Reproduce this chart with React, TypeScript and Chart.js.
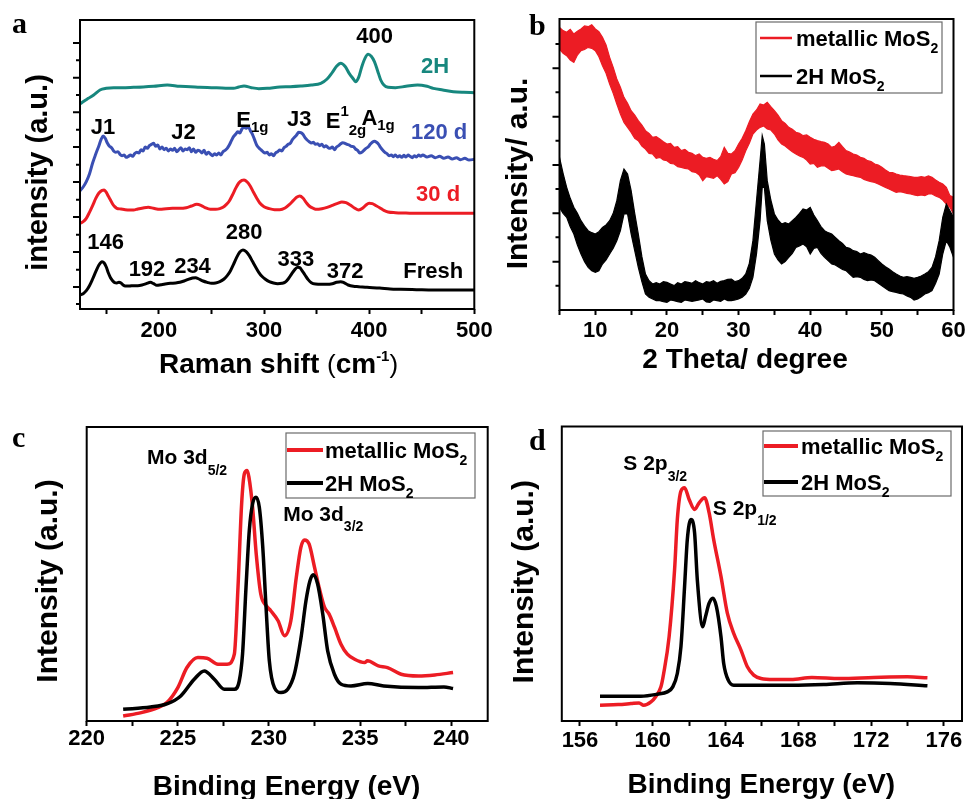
import React, { useEffect, useRef } from "react";
import { Chart, registerables } from "chart.js";

Chart.register(...registerables);

const W = 968;
const H = 799;
const SANS = "'Liberation Sans', Arial, Helvetica, sans-serif";
const SERIF = "'Liberation Serif', 'Times New Roman', Times, serif";

const RED = "#ec1c24";
const BLUE = "#3a4fb3";
const TEAL = "#17877e";
const BLACK = "#000000";

// ===================== (a) Raman spectra =====================
const RAMAN_X_MAJOR = [200, 300, 400, 500];
const RAMAN_X_MINOR = [150, 250, 350, 450];
const RAMAN_Y_MAJOR = [66, 171, 276, 381, 486, 590, 694, 798];
const RAMAN_Y_MINOR = [15, 118, 223, 328, 433, 538, 642, 746];

const RAMAN_FRESH: [number, number][] = [
  [125, 42], [128, 46], [131, 55], [134, 70], [137, 90], [140, 112], [143, 132], [146, 142], [148, 138],
  [150, 126], [152, 108], [154, 94], [156, 85], [158, 79], [160, 78], [162, 80], [164, 78], [166, 72],
  [168, 69], [172, 69], [176, 70], [180, 70], [184, 72], [188, 76], [192, 80], [195, 76], [198, 71],
  [202, 73], [206, 75], [211, 77], [216, 78], [220, 80], [224, 84], [228, 89], [232, 93], [235, 94],
  [238, 90], [242, 84], [246, 80], [250, 77], [254, 78], [258, 82], [262, 90], [265, 100], [268, 114],
  [271, 134], [274, 155], [277, 171], [280, 177], [283, 172], [286, 160], [289, 143], [292, 126],
  [295, 110], [298, 98], [301, 90], [305, 82], [309, 78], [313, 76], [317, 77], [320, 80], [323, 90],
  [326, 104], [329, 117], [332, 125], [334, 124], [336, 116], [339, 102], [342, 88], [345, 79], [349, 75],
  [355, 74], [360, 74], [365, 76], [369, 80], [373, 82], [376, 79], [380, 72], [385, 68], [390, 67],
  [398, 65], [410, 63], [420, 60], [430, 59], [445, 58], [461, 57], [480, 57], [500, 57],
];

const RAMAN_30D: [number, number][] = [
  [125, 257], [128, 262], [131, 272], [134, 290], [137, 310], [140, 332], [143, 348], [146, 356], [148, 357],
  [150, 350], [152, 338], [154, 327], [156, 315], [158, 307], [160, 302], [164, 300], [168, 298], [172, 297],
  [176, 297], [180, 300], [185, 303], [190, 305], [195, 302], [201, 299], [207, 301], [213, 302], [220, 302],
  [226, 304], [231, 309], [236, 314], [240, 311], [244, 304], [249, 299], [254, 299], [258, 301], [261, 305],
  [264, 313], [267, 324], [270, 342], [273, 362], [276, 378], [279, 386], [281, 387], [284, 381], [287, 368],
  [290, 350], [293, 333], [296, 318], [300, 307], [305, 301], [310, 298], [315, 298], [320, 303], [324, 313],
  [328, 326], [331, 335], [334, 339], [337, 333], [340, 320], [343, 309], [347, 302], [350, 299], [355, 301],
  [360, 305], [365, 311], [370, 317], [374, 321], [378, 319], [382, 312], [386, 303], [390, 297], [394, 303],
  [397, 312], [400, 317], [403, 316], [406, 311], [410, 304], [414, 296], [418, 291], [425, 289], [435, 288],
  [446, 287], [460, 287], [480, 287], [500, 287],
];

const RAMAN_120D: [number, number][] = [
  [125, 355], [128, 366], [131, 382], [134, 405], [137, 438], [140, 465], [143, 490], [145, 508], [147, 519],
  [149, 512], [151, 498], [153, 488], [155, 484], [157, 474], [159, 470], [161, 472], [163, 464], [165, 460],
  [167, 462], [169, 455], [171, 458], [173, 462], [175, 458], [177, 466], [179, 470], [181, 468], [183, 478],
  [185, 474], [187, 486], [189, 482], [191, 490], [193, 494], [195, 497], [197, 488], [199, 492], [201, 480],
  [203, 486], [205, 478], [207, 482], [209, 474], [211, 480], [213, 476], [215, 482], [217, 472], [219, 478],
  [221, 484], [223, 474], [225, 480], [227, 478], [229, 484], [231, 472], [233, 480], [235, 470], [237, 476],
  [239, 474], [241, 468], [243, 476], [245, 464], [247, 470], [249, 465], [251, 460], [253, 466], [255, 462],
  [257, 468], [259, 462], [261, 472], [263, 476], [265, 482], [267, 492], [269, 505], [271, 517], [273, 524],
  [275, 532], [277, 528], [279, 540], [281, 545], [283, 542], [285, 547], [287, 535], [289, 524], [291, 508],
  [293, 492], [295, 484], [297, 478], [299, 472], [301, 468], [303, 470], [305, 462], [307, 466], [309, 460],
  [311, 468], [313, 472], [315, 477], [317, 474], [319, 484], [321, 488], [323, 494], [325, 497], [327, 508],
  [329, 515], [331, 522], [333, 530], [335, 529], [337, 524], [339, 514], [341, 507], [343, 502], [345, 498],
  [347, 500], [349, 494], [351, 496], [353, 490], [355, 494], [357, 486], [359, 490], [361, 484], [363, 482],
  [365, 486], [367, 478], [369, 486], [371, 490], [373, 496], [375, 499], [377, 497], [379, 494], [381, 492],
  [383, 488], [385, 487], [387, 480], [389, 476], [391, 468], [393, 470], [395, 476], [397, 482], [399, 486],
  [401, 494], [403, 500], [405, 503], [407, 500], [409, 494], [411, 484], [413, 476], [415, 470], [417, 466],
  [419, 460], [421, 462], [423, 457], [425, 462], [427, 456], [429, 460], [431, 455], [433, 461], [435, 456],
  [437, 462], [439, 458], [441, 454], [443, 460], [445, 456], [447, 462], [449, 458], [451, 462], [455, 456],
  [459, 460], [463, 454], [467, 458], [471, 452], [475, 456], [479, 450], [483, 454], [487, 448], [491, 452],
  [495, 447], [500, 449],
];

const RAMAN_2H: [number, number][] = [
  [125, 615], [129, 624], [133, 632], [138, 642], [144, 657], [150, 662], [157, 664], [165, 664], [176, 665],
  [185, 666], [195, 668], [208, 672], [220, 668], [230, 667], [239, 665], [250, 664], [260, 663], [271, 662],
  [276, 666], [281, 669], [288, 664], [295, 661], [303, 662], [315, 666], [325, 667], [335, 669], [345, 672],
  [354, 677], [360, 690], [365, 710], [369, 728], [373, 737], [377, 728], [381, 707], [385, 690], [387, 682],
  [390, 695], [393, 727], [396, 752], [399, 764], [402, 758], [405, 742], [408, 715], [411, 687], [414, 672],
  [418, 665], [425, 664], [435, 668], [446, 672], [455, 668], [461, 662], [470, 657], [480, 652], [490, 650],
  [500, 649],
];

// ===================== (b) XRD (noise band: [2theta, upper, lower]) =====================
const XRD_X_MAJOR = [10, 20, 30, 40, 50, 60];
const XRD_X_MINOR = [5, 15, 25, 35, 45, 55];
const XRD_Y_MAJOR = [145, 290, 435, 580, 725];
const XRD_Y_MINOR = [73, 218, 363, 508, 653, 798];

const XRD_METALLIC: [number, number, number][] = [
  [5, 848, 783], [5.5, 838, 770], [6, 833, 763], [6.5, 842, 750], [7, 828, 743], [7.5, 836, 765], [8, 843, 778],
  [8.5, 852, 782], [9, 850, 788], [9.5, 856, 785], [10, 843, 778], [10.5, 835, 760], [11, 818, 733],
  [11.5, 795, 710], [12, 758, 678], [12.5, 728, 650], [13, 693, 618], [13.5, 668, 588], [14, 638, 563],
  [14.5, 620, 548], [15, 598, 533], [15.5, 585, 515], [16, 568, 508], [16.5, 555, 492], [17, 538, 483],
  [17.5, 530, 470], [18, 518, 468], [18.5, 520, 455], [19, 513, 458], [19.5, 505, 450], [20, 498, 448],
  [20.5, 500, 440], [21, 488, 438], [21.5, 490, 430], [22, 478, 428], [22.5, 482, 425], [23, 473, 423],
  [23.5, 470, 415], [24, 463, 413], [24.5, 468, 405], [25, 458, 388], [25.5, 455, 400], [26, 458, 398],
  [26.5, 452, 395], [27, 448, 403], [27.5, 460, 392], [28, 488, 378], [28.5, 470, 385], [29, 468, 408],
  [29.5, 478, 412], [30, 498, 428], [30.5, 515, 450], [31, 538, 478], [31.5, 565, 500], [32, 588, 528],
  [32.5, 600, 540], [33, 618, 548], [33.5, 615, 552], [34, 623, 543], [34.5, 610, 540], [35, 598, 528],
  [35.5, 585, 510], [36, 568, 498], [36.5, 560, 492], [37, 548, 483], [37.5, 542, 475], [38, 533, 468],
  [38.5, 530, 462], [39, 523, 458], [39.5, 525, 450], [40, 518, 438], [40.5, 512, 440], [41, 508, 428],
  [41.5, 505, 432], [42, 503, 433], [42.5, 498, 425], [43, 488, 418], [43.5, 492, 420], [44, 503, 423],
  [44.5, 490, 415], [45, 478, 408], [45.5, 474, 405], [46, 468, 403], [46.5, 465, 400], [47, 458, 398],
  [47.5, 455, 392], [48, 448, 388], [48.5, 445, 385], [49, 438, 383], [49.5, 435, 378], [50, 428, 373],
  [50.5, 420, 368], [51, 413, 363], [51.5, 412, 358], [52, 408, 353], [52.5, 405, 355], [53, 403, 353],
  [53.5, 402, 350], [54, 400, 348], [54.5, 398, 345], [55, 398, 343], [55.5, 400, 345], [56, 398, 343],
  [56.5, 402, 348], [57, 398, 348], [57.5, 390, 342], [58, 383, 338], [58.5, 378, 330], [59, 368, 318],
  [59.5, 343, 308], [60, 338, 288],
];

const XRD_2H: [number, number, number][] = [
  [5, 458, 308], [5.5, 410, 290], [6, 368, 278], [6.5, 335, 250], [7, 308, 228], [7.5, 290, 195], [8, 268, 168],
  [8.5, 252, 145], [9, 238, 128], [9.5, 232, 118], [10, 228, 113], [10.5, 235, 118], [11, 248, 138],
  [11.5, 255, 150], [12, 268, 168], [12.5, 290, 185], [13, 328, 208], [13.5, 388, 238], [14, 423, 288],
  [14.5, 408, 288], [15, 358, 228], [15.5, 290, 178], [16, 228, 128], [16.5, 160, 85], [17, 108, 48],
  [17.5, 88, 38], [18, 78, 33], [18.5, 82, 28], [19, 78, 28], [19.5, 85, 25], [20, 83, 23], [20.5, 78, 30],
  [21, 73, 28], [21.5, 82, 25], [22, 78, 23], [22.5, 85, 30], [23, 83, 28], [23.5, 80, 26], [24, 88, 28],
  [24.5, 82, 30], [25, 78, 33], [25.5, 85, 24], [26, 83, 23], [26.5, 88, 30], [27, 80, 28], [27.5, 86, 26],
  [28, 88, 33], [28.5, 92, 28], [29, 93, 28], [29.5, 85, 30], [30, 88, 33], [30.5, 95, 38], [31, 108, 48],
  [31.5, 140, 65], [32, 208, 98], [32.5, 328, 168], [33, 448, 268], [33.3, 523, 368], [33.6, 498, 368],
  [34, 388, 268], [34.5, 330, 210], [35, 288, 168], [35.5, 270, 150], [36, 258, 138], [36.5, 262, 145],
  [37, 258, 158], [37.5, 268, 170], [38, 278, 188], [38.5, 290, 192], [39, 303, 198], [39.5, 300, 190],
  [40, 308, 168], [40.5, 285, 185], [41, 268, 188], [41.5, 250, 170], [42, 238, 158], [42.5, 232, 148],
  [43, 228, 138], [43.5, 218, 135], [44, 208, 128], [44.5, 200, 122], [45, 188, 118], [45.5, 185, 108],
  [46, 178, 98], [46.5, 175, 100], [47, 168, 98], [47.5, 172, 92], [48, 168, 88], [48.5, 165, 90],
  [49, 158, 88], [49.5, 148, 80], [50, 138, 73], [50.5, 130, 65], [51, 123, 58], [51.5, 115, 55],
  [52, 108, 53], [52.5, 102, 50], [53, 98, 48], [53.5, 100, 42], [54, 98, 38], [54.5, 95, 30], [55, 98, 33],
  [55.5, 102, 40], [56, 108, 48], [56.5, 115, 52], [57, 128, 58], [57.5, 160, 80], [58, 208, 108],
  [58.5, 278, 168], [59, 318, 208], [59.5, 298, 188], [60, 278, 158],
];

// ===================== (c) XPS Mo 3d =====================
const MO_X_MAJOR = [220, 225, 230, 235, 240];
const MO_X_MINOR = [222.5, 227.5, 232.5, 237.5];

const MO_METALLIC: [number, number][] = [
  [222.0, 15], [223.0, 25], [223.9, 40], [224.4, 55], [225.0, 100], [225.5, 160], [226.1, 190], [226.6, 188],
  [227.2, 170], [227.7, 170], [228.1, 200], [228.3, 400], [228.5, 650], [228.65, 740], [228.8, 750],
  [228.9, 730], [229.1, 640], [229.3, 500], [229.55, 380], [229.85, 345], [230.1, 330], [230.5, 300],
  [230.85, 255], [231.2, 300], [231.5, 430], [231.75, 520], [231.95, 542], [232.2, 530], [232.5, 460],
  [232.75, 400], [233.05, 340], [233.3, 320], [233.6, 280], [233.95, 230], [234.3, 200], [234.7, 185],
  [235.25, 175], [235.4, 180], [236.0, 165], [236.5, 160], [237.25, 140], [238.2, 135], [239.1, 138],
  [240.1, 145],
];

const MO_2H: [number, number][] = [
  [222.0, 35], [223.5, 42], [224.43, 52], [225.16, 75], [225.9, 125], [226.45, 150], [227.0, 125],
  [227.55, 95], [228.1, 95], [228.37, 120], [228.55, 200], [228.74, 400], [228.92, 570], [229.1, 650],
  [229.29, 670], [229.47, 640], [229.66, 520], [229.84, 340], [230.02, 180], [230.3, 100], [230.66, 85],
  [231.03, 95], [231.39, 140], [231.76, 250], [232.03, 360], [232.25, 420], [232.43, 438], [232.67, 410],
  [232.95, 320], [233.22, 210], [233.59, 140], [233.96, 110], [234.5, 105], [235.42, 112], [236.3, 105],
  [238.2, 100], [239.6, 102], [240.1, 97],
];

// ===================== (d) XPS S 2p =====================
const S_X_MAJOR = [156, 160, 164, 168, 172, 176];
const S_X_MINOR = [158, 162, 166, 170, 174];

const S_METALLIC: [number, number][] = [
  [157.1, 47], [158.1, 49], [158.8, 52], [159.25, 54], [159.5, 47], [159.9, 57], [160.15, 72], [160.45, 102],
  [160.6, 142], [160.9, 252], [161.2, 452], [161.35, 602], [161.55, 687], [161.75, 697], [162.0, 662],
  [162.3, 632], [162.55, 652], [162.85, 667], [163.1, 622], [163.35, 542], [163.75, 432], [164.1, 322],
  [164.45, 262], [164.85, 212], [165.2, 162], [165.55, 137], [165.95, 127], [166.65, 124], [167.6, 124],
  [168.75, 130], [170.3, 127], [172.15, 130], [174.0, 132], [175.1, 129],
];

const S_2H: [number, number][] = [
  [157.1, 74], [159.35, 74], [160.25, 80], [160.8, 87], [161.1, 102], [161.35, 142], [161.55, 222],
  [161.75, 402], [161.9, 542], [162.1, 602], [162.3, 562], [162.45, 422], [162.75, 282], [162.9, 312],
  [163.1, 352], [163.3, 367], [163.5, 342], [163.75, 252], [163.9, 172], [164.15, 122], [164.45, 107],
  [165.75, 107], [167.6, 107], [169.4, 109], [171.25, 114], [173.05, 112], [175.1, 105],
];

// ===================== helpers =====================
type Part = { t: string; size?: number; dy?: number; weight?: string };
type Label = { parts: Part[]; x: number; y: number; color?: string; align?: "left" | "center" };

function fontOf(p: Part, base: number) {
  return `${p.weight || "bold"} ${p.size || base}px ${SANS}`;
}
function partsWidth(ctx: CanvasRenderingContext2D, parts: Part[], base: number) {
  let w = 0;
  for (const p of parts) {
    ctx.font = fontOf(p, base);
    w += ctx.measureText(p.t).width;
  }
  return w;
}
function drawParts(
  ctx: CanvasRenderingContext2D, parts: Part[], x: number, baseline: number, base: number,
  align: "left" | "center", color: string,
) {
  const w = partsWidth(ctx, parts, base);
  let cx = align === "center" ? x - w / 2 : x;
  ctx.fillStyle = color;
  ctx.textAlign = "left";
  ctx.textBaseline = "alphabetic";
  for (const p of parts) {
    ctx.font = fontOf(p, base);
    ctx.fillText(p.t, cx, baseline + (p.dy || 0));
    cx += ctx.measureText(p.t).width;
  }
}

const MOS2_METALLIC: Part[] = [{ t: "metallic MoS" }, { t: "2", size: 14, dy: 7 }];
const MOS2_2H: Part[] = [{ t: "2H MoS" }, { t: "2", size: 14, dy: 7 }];

type LegendCfg = {
  left: number; right: number; top: number; bottom: number;
  line0: number; line1: number; text: number; rows: number[]; lw: number;
};

type Panel = {
  key: string;
  area: { l: number; r: number; t: number; b: number };
  xMin: number; xMax: number; yMax: number;
  xMajor: number[]; xMinor: number[]; tickPad: number;
  yMajor: number[]; yMinor: number[];
  datasets: any[];
  labels: Label[]; labelSize: number;
  yTitle: { text: string; dx: number; dy: number; size: number };
  xTitle: { parts: Part[]; dx: number; dy: number; size: number };
  letter: { t: string; x: number; y: number };
  legend: LegendCfg | null;
};

const line = (label: string, pts: [number, number][], color: string, width = 3) => ({
  label,
  data: pts.map(([x, y]) => ({ x, y })),
  borderColor: color,
  borderWidth: width,
  pointRadius: 0,
  fill: false,
  cubicInterpolationMode: "monotone",
});

const band = (label: string, pts: [number, number, number][], color: string) => [
  {
    label,
    data: pts.map(([x, u]) => ({ x, y: u })),
    borderColor: color, borderWidth: 1.2, pointRadius: 0, fill: false, tension: 0,
  },
  {
    label: label + " (lower)",
    data: pts.map(([x, , l]) => ({ x, y: l })),
    borderColor: color, borderWidth: 1.2, pointRadius: 0, fill: "-1", backgroundColor: color, tension: 0,
  },
];

const PANELS: Panel[] = [
  {
    key: "a",
    area: { l: 80, r: 474.3, t: 20, b: 309 },
    xMin: 125, xMax: 500, yMax: 867,
    xMajor: RAMAN_X_MAJOR, xMinor: RAMAN_X_MINOR, tickPad: 4,
    yMajor: RAMAN_Y_MAJOR, yMinor: RAMAN_Y_MINOR,
    datasets: [
      line("Fresh", RAMAN_FRESH, BLACK),
      line("30 d", RAMAN_30D, RED),
      line("120 d", RAMAN_120D, BLUE),
      line("2H", RAMAN_2H, TEAL),
    ],
    labelSize: 22,
    labels: [
      { parts: [{ t: "400" }], x: 405.2, y: 823 },
      { parts: [{ t: "2H" }], x: 462.8, y: 733, color: TEAL },
      { parts: [{ t: "J1" }], x: 146.9, y: 550 },
      { parts: [{ t: "J2" }], x: 223.5, y: 534 },
      { parts: [{ t: "E" }, { t: "1g", size: 15, dy: 5 }], x: 289, y: 570 },
      { parts: [{ t: "J3" }], x: 333.4, y: 574 },
      { parts: [{ t: "E" }, { t: "1", size: 15, dy: -12 }, { t: "2g", size: 15, dy: 7 }], x: 378, y: 567 },
      { parts: [{ t: "A" }, { t: "1g", size: 15, dy: 5 }], x: 408.5, y: 576 },
      { parts: [{ t: "120 d" }], x: 466.6, y: 534, color: BLUE },
      { parts: [{ t: "30 d" }], x: 465.6, y: 349, color: RED },
      { parts: [{ t: "146" }], x: 149.3, y: 205 },
      { parts: [{ t: "192" }], x: 188.7, y: 124 },
      { parts: [{ t: "234" }], x: 232, y: 133 },
      { parts: [{ t: "280" }], x: 281, y: 235 },
      { parts: [{ t: "333" }], x: 330.2, y: 154 },
      { parts: [{ t: "372" }], x: 377.1, y: 118 },
      { parts: [{ t: "Fresh" }], x: 460.9, y: 118 },
    ],
    yTitle: { text: "intensity (a.u.)", dx: -33, dy: 8, size: 29 },
    xTitle: {
      parts: [
        { t: "Raman shift " }, { t: "(", weight: "normal", size: 26 }, { t: "cm" },
        { t: "-1", size: 15, dy: -12 }, { t: ")", weight: "normal", size: 26 },
      ],
      dx: 1.4, dy: 64, size: 28,
    },
    letter: { t: "a", x: 12, y: 33 },
    legend: null,
  },
  {
    key: "b",
    area: { l: 559.5, r: 953.5, t: 19, b: 310 },
    xMin: 5, xMax: 60, yMax: 873,
    xMajor: XRD_X_MAJOR, xMinor: XRD_X_MINOR, tickPad: 3,
    yMajor: XRD_Y_MAJOR, yMinor: XRD_Y_MINOR,
    datasets: [...band("2H MoS2", XRD_2H, BLACK), ...band("metallic MoS2", XRD_METALLIC, RED)],
    labelSize: 22,
    labels: [],
    yTitle: { text: "Intensity/ a.u.", dx: -32.5, dy: 9, size: 30 },
    xTitle: { parts: [{ t: "2 Theta/ degree" }], dx: -11.5, dy: 58, size: 28 },
    letter: { t: "b", x: 529, y: 35 },
    legend: { left: -197.5, right: -11.5, top: 3, bottom: 74, line0: 4, line1: 36, text: 40, rows: [19, 57], lw: 2.5 },
  },
  {
    key: "c",
    area: { l: 86.7, r: 487.7, t: 427, b: 721 },
    xMin: 220, xMax: 242, yMax: 880,
    xMajor: MO_X_MAJOR, xMinor: MO_X_MINOR, tickPad: 0,
    yMajor: [], yMinor: [],
    datasets: [line("2H MoS2", MO_2H, BLACK, 3.5), line("metallic MoS2", MO_METALLIC, RED, 3.5)],
    labelSize: 21,
    labels: [
      { parts: [{ t: "Mo 3d" }, { t: "5/2", size: 14, dy: 11 }], x: 223.31, y: 792, align: "left" },
      { parts: [{ t: "Mo 3d" }, { t: "3/2", size: 14, dy: 10 }], x: 230.78, y: 622, align: "left" },
    ],
    yTitle: { text: "Intensity (a.u.)", dx: -30, dy: 7, size: 30 },
    xTitle: { parts: [{ t: "Binding Energy (eV)" }], dx: -0.7, dy: 74, size: 28 },
    letter: { t: "c", x: 12, y: 447 },
    legend: { left: -201.7, right: -12.7, top: 6, bottom: 71, line0: 1, line1: 37, text: 39, rows: [23, 56], lw: 4 },
  },
  {
    key: "d",
    area: { l: 561.8, r: 962, t: 426.5, b: 721 },
    xMin: 155, xMax: 177, yMax: 880,
    xMajor: S_X_MAJOR, xMinor: S_X_MINOR, tickPad: 2,
    yMajor: [], yMinor: [],
    datasets: [line("2H MoS2", S_2H, BLACK, 3.5), line("metallic MoS2", S_METALLIC, RED, 3.5)],
    labelSize: 21,
    labels: [
      { parts: [{ t: "S 2p" }, { t: "3/2", size: 14, dy: 11 }], x: 158.38, y: 774, align: "left" },
      { parts: [{ t: "S 2p" }, { t: "1/2", size: 14, dy: 10 }], x: 163.3, y: 637, align: "left" },
    ],
    yTitle: { text: "Intensity (a.u.)", dx: -29, dy: 8, size: 30 },
    xTitle: { parts: [{ t: "Binding Energy (eV)" }], dx: -0.5, dy: 72, size: 28 },
    letter: { t: "d", x: 529, y: 450 },
    legend: { left: -199, right: -11, top: 4.5, bottom: 69.5, line0: 1, line1: 35, text: 38, rows: [19.5, 55.5], lw: 4 },
  },
];

function decorate(chart: any, p: Panel) {
  const ctx: CanvasRenderingContext2D = chart.ctx;
  const { left: L, right: R, top: T, bottom: B } = chart.chartArea;
  const xs = chart.scales.x;
  const ys = chart.scales.y;
  ctx.save();

  // frame
  ctx.strokeStyle = BLACK;
  ctx.lineWidth = 2;
  ctx.strokeRect(L, T, R - L, B - T);

  // y ticks (outward)
  ctx.beginPath();
  for (const v of p.yMajor) {
    const y = ys.getPixelForValue(v);
    ctx.moveTo(L - 7, y);
    ctx.lineTo(L, y);
  }
  for (const v of p.yMinor) {
    const y = ys.getPixelForValue(v);
    ctx.moveTo(L - 4, y);
    ctx.lineTo(L, y);
  }
  ctx.stroke();

  // annotations
  for (const a of p.labels) {
    const px = xs.getPixelForValue(a.x);
    const py = ys.getPixelForValue(a.y);
    drawParts(ctx, a.parts, px, py + 0.36 * p.labelSize, p.labelSize, a.align || "center", a.color || BLACK);
  }

  // legend
  if (p.legend) {
    const lg = p.legend;
    const bl = R + lg.left;
    const br = R + lg.right;
    const bt = T + lg.top;
    const bb = T + lg.bottom;
    ctx.strokeStyle = "#6b6b6b";
    ctx.lineWidth = 1.2;
    ctx.strokeRect(bl, bt, br - bl, bb - bt);
    const entries = [
      { parts: MOS2_METALLIC, color: RED },
      { parts: MOS2_2H, color: BLACK },
    ];
    entries.forEach((e, i) => {
      const y = T + lg.rows[i];
      ctx.strokeStyle = e.color;
      ctx.lineWidth = lg.lw;
      ctx.beginPath();
      ctx.moveTo(bl + lg.line0, y);
      ctx.lineTo(bl + lg.line1, y);
      ctx.stroke();
      drawParts(ctx, e.parts, bl + lg.text, y + 8, 22, "left", BLACK);
    });
  }

  // y title (rotated)
  ctx.save();
  ctx.translate(L + p.yTitle.dx, (T + B) / 2 + p.yTitle.dy);
  ctx.rotate(-Math.PI / 2);
  ctx.font = `bold ${p.yTitle.size}px ${SANS}`;
  ctx.fillStyle = BLACK;
  ctx.textAlign = "center";
  ctx.textBaseline = "alphabetic";
  ctx.fillText(p.yTitle.text, 0, 0);
  ctx.restore();

  // x title
  drawParts(ctx, p.xTitle.parts, (L + R) / 2 + p.xTitle.dx, B + p.xTitle.dy, p.xTitle.size, "center", BLACK);

  // panel letter
  ctx.font = `bold 30px ${SERIF}`;
  ctx.fillStyle = BLACK;
  ctx.textAlign = "left";
  ctx.textBaseline = "alphabetic";
  ctx.fillText(p.letter.t, p.letter.x, p.letter.y);

  ctx.restore();
}

const XH = 40;

function buildConfig(p: Panel): any {
  const allTicks = [...p.xMajor, ...p.xMinor].sort((a, b) => a - b);
  return {
    type: "line",
    data: { datasets: p.datasets },
    options: {
      responsive: false,
      animation: false,
      devicePixelRatio: 1,
      events: [],
      layout: {
        padding: { left: p.area.l, top: p.area.t, right: W - p.area.r, bottom: H - p.area.b - XH },
      },
      plugins: { legend: { display: false }, tooltip: { enabled: false } },
      scales: {
        x: {
          type: "linear",
          position: "bottom",
          min: p.xMin,
          max: p.xMax,
          afterBuildTicks: (s: any) => {
            s.ticks = allTicks.map((v) => ({ value: v }));
          },
          afterFit: (s: any) => {
            s.height = XH;
            s.paddingLeft = 0;
            s.paddingRight = 0;
          },
          ticks: {
            autoSkip: false,
            maxRotation: 0,
            minRotation: 0,
            padding: p.tickPad,
            color: BLACK,
            font: { family: SANS, size: 22, weight: "bold" },
            callback: (v: number) => (p.xMajor.includes(v) ? String(v) : ""),
          },
          grid: {
            display: true,
            drawOnChartArea: false,
            drawTicks: true,
            tickLength: 5,
            tickWidth: 2,
            tickColor: BLACK,
          },
          border: { display: false },
          title: { display: false },
        },
        y: { type: "linear", display: false, min: 0, max: p.yMax },
      },
    },
    plugins: [{ id: "decor-" + p.key, afterDatasetsDraw: (chart: any) => decorate(chart, p) }],
  };
}

function PanelChart({ panel }: { panel: Panel }) {
  const ref = useRef<HTMLCanvasElement | null>(null);
  useEffect(() => {
    if (!ref.current) return;
    const chart = new Chart(ref.current, buildConfig(panel));
    return () => chart.destroy();
  }, [panel]);
  return (
    <canvas
      ref={ref}
      width={W}
      height={H}
      style={{ position: "absolute", left: 0, top: 0, width: W, height: H }}
    />
  );
}

export default function App() {
  return (
    <div style={{ position: "absolute", left: 0, top: 0, width: W, height: H, background: "#ffffff" }}>
      {PANELS.map((p) => (
        <PanelChart key={p.key} panel={p} />
      ))}
    </div>
  );
}
